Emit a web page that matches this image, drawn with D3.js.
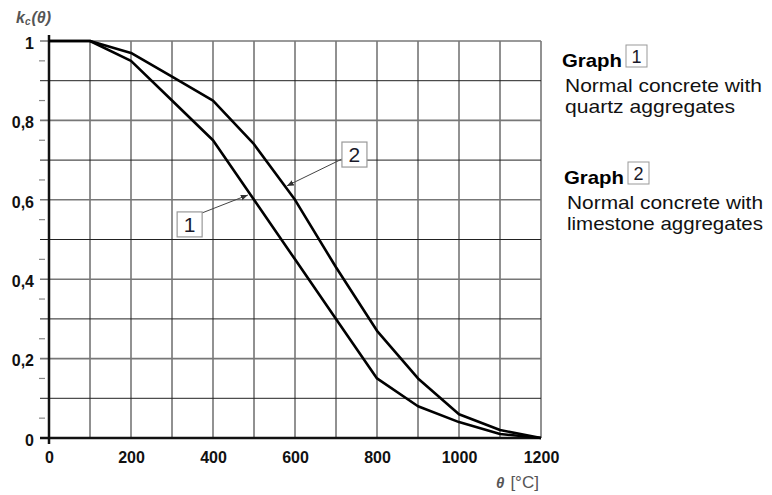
<!DOCTYPE html>
<html>
<head>
  <meta charset="utf-8">
  <title>kc(theta)</title>
  <script src="https://cdn.jsdelivr.net/npm/d3@7"></script>
  <style>
    body { margin: 0; background: #fff; }
    svg { display: block; font-family: "Liberation Sans", Arial, sans-serif; }
  </style>
</head>
<body>
  <svg width="772" height="495" id="mainsvg"></svg>
  <script>
    // data (EN 1992-1-2 style reduction factors)
    const temps = [0, 100, 200, 300, 400, 500, 600, 700, 800, 900, 1000, 1100, 1200];
    const quartz = [1, 1, 0.95, 0.85, 0.75, 0.60, 0.45, 0.30, 0.15, 0.08, 0.04, 0.01, 0];
    const limestone = [1, 1, 0.97, 0.91, 0.85, 0.74, 0.60, 0.43, 0.27, 0.15, 0.06, 0.02, 0];
    const xTickLabels = [0, 200, 400, 600, 800, 1000, 1200];
    const yTickLabels = [0, 0.2, 0.4, 0.6, 0.8, 1];
    const legendItems = [
      {id: '1', lines: ['Normal concrete with', 'quartz aggregates']},
      {id: '2', lines: ['Normal concrete with', 'limestone aggregates']}
    ];
    // label boxes on the plot, in data units, and where their arrows point
    const callouts = [
      {id: '1', t: 343, k: 0.538, tipT: 485, tipK: 0.612},
      {id: '2', t: 745, k: 0.714, tipT: 580, tipK: 0.635}
    ];

    const svg = d3.select('svg');
    const margin = {top: 41, left: 49};
    const innerWidth = 492;
    const innerHeight = 397;
    const g = svg.append('g').attr('transform', `translate(${margin.left}, ${margin.top})`);

    const xScale = d3.scaleLinear().domain([0, 1200]).range([0, innerWidth]);
    const yScale = d3.scaleLinear().domain([0, 1]).range([innerHeight, 0]);

    // grid
    const vLines = d3.range(100, 1201, 100);
    g.selectAll('.vgrid').data(vLines).join('line')
      .attr('x1', d => xScale(d)).attr('x2', d => xScale(d))
      .attr('y1', yScale(1)).attr('y2', yScale(0))
      .attr('stroke', (d, i) => i % 2 ? '#777' : '#222')
      .attr('stroke-width', (d, i) => i % 2 ? 1.6 : 1);
    const hLines = d3.range(1, 11).map(d => d / 10);
    g.selectAll('.hgrid').data(hLines).join('line')
      .attr('x1', -9).attr('x2', xScale(1200))
      .attr('y1', d => yScale(d)).attr('y2', d => yScale(d))
      .attr('stroke', (d, i) => i % 2 ? '#777' : '#222')
      .attr('stroke-width', (d, i) => i % 2 ? 1.6 : 1);
    // minor ticks on the left
    g.selectAll('.minor').data(d3.range(0, 10).map(d => d / 10 + 0.05)).join('line')
      .attr('x1', -10).attr('x2', -4)
      .attr('y1', d => yScale(d)).attr('y2', d => yScale(d))
      .attr('stroke', '#888').attr('stroke-width', 1.2);

    // axes lines
    g.append('line').attr('x1', 0).attr('x2', 0).attr('y1', -6).attr('y2', yScale(0) + 6)
      .attr('stroke', '#111').attr('stroke-width', 2.5);
    g.append('line').attr('x1', -9).attr('x2', xScale(1200)).attr('y1', yScale(0)).attr('y2', yScale(0))
      .attr('stroke', '#111').attr('stroke-width', 2.5);

    // tick labels
    const xAxis = d3.axisBottom(xScale).tickValues(xTickLabels).tickSize(0).tickPadding(14)
      .tickFormat(d3.format('d'));
    const xAxisGroup = g.append('g').attr('transform', `translate(0, ${innerHeight})`).call(xAxis);
    xAxisGroup.select('.domain').remove();
    const yAxis = d3.axisLeft(yScale).tickValues(yTickLabels).tickSize(0).tickPadding(15)
      .tickFormat(d => d === 0 || d === 1 ? d : String(d).replace('.', ','));
    const yAxisGroup = g.append('g').call(yAxis);
    yAxisGroup.select('.domain').remove();
    g.selectAll('.tick text').attr('font-size', 16).attr('font-weight', 'bold')
      .attr('fill', '#111').attr('font-family', '"Liberation Sans", Arial, sans-serif');
    yAxisGroup.selectAll('.tick text').attr('dy', '0.45em');

    // curves
    const line = d3.line().x(d => xScale(d[0])).y(d => yScale(d[1]));
    [quartz, limestone].forEach(s => {
      g.append('path').datum(temps.map((t, i) => [t, s[i]]))
        .attr('d', line).attr('fill', 'none')
        .attr('stroke', '#000').attr('stroke-width', 2.6).attr('stroke-linejoin', 'round');
    });

    // callouts
    svg.append('defs').append('marker').attr('id', 'arr')
      .attr('viewBox', '0 0 10 10').attr('refX', 10).attr('refY', 5)
      .attr('markerWidth', 7).attr('markerHeight', 7).attr('orient', 'auto')
      .append('path').attr('d', 'M0,1 L10,5 L0,9 Z').attr('fill', '#333');
    callouts.forEach(c => {
      const cx = xScale(c.t), cy = yScale(c.k);
      const sx = c.id === '1' ? cx + 12.5 : cx - 12.5;
      const sy = c.id === '1' ? cy - 11.5 : cy + 4.5;
      g.append('line').attr('x1', sx).attr('y1', sy)
        .attr('x2', xScale(c.tipT)).attr('y2', yScale(c.tipK))
        .attr('stroke', '#444').attr('stroke-width', 1).attr('marker-end', 'url(#arr)');
      g.append('rect').attr('x', cx - 12.5).attr('y', cy - 12.5).attr('width', 25).attr('height', 25)
        .attr('fill', '#fff').attr('stroke', '#999').attr('stroke-width', 1.2);
      g.append('text').attr('x', cx).attr('y', cy + 7.5).attr('text-anchor', 'middle')
        .attr('font-size', 21).attr('fill', '#1a1a2a').text(c.id);
    });

    // axis titles
    const yTitle = svg.append('text').attr('x', 16).attr('y', 23).attr('fill', '#555')
      .attr('font-size', 16).attr('font-weight', 'bold').attr('font-style', 'italic');
    yTitle.append('tspan').text('k');
    yTitle.append('tspan').attr('font-size', 10).attr('dy', 2).text('c');
    yTitle.append('tspan').attr('dy', -2).attr('dx', 1).text('(θ)');
    const xTitle = svg.append('text').attr('x', 496).attr('y', 488).attr('fill', '#555').attr('font-size', 17);
    xTitle.append('tspan').attr('font-weight', 'bold').attr('font-style', 'italic').attr('font-size', 15).text('θ');
    xTitle.append('tspan').attr('dx', 6).text('[°C]');

    // legend
    const legendTop = [67, 184];
    const lineWidths = [[197, 170], [196, 196]];
    legendItems.forEach((item, i) => {
      const lg = svg.append('g').attr('transform', `translate(${562 + i * 2}, ${legendTop[i]})`);
      lg.append('text').attr('x', 0).attr('y', 0).attr('font-size', 19).attr('font-weight', 'bold')
        .attr('fill', '#000').attr('textLength', 60).attr('lengthAdjust', 'spacingAndGlyphs').text('Graph');
      lg.append('rect').attr('x', 64).attr('y', -22).attr('width', 21).attr('height', 22)
        .attr('fill', '#fff').attr('stroke', '#999').attr('stroke-width', 1);
      lg.append('text').attr('x', 74.5).attr('y', -4).attr('text-anchor', 'middle')
        .attr('font-size', 18).attr('fill', '#1a1a2a').text(item.id);
      item.lines.forEach((t, j) => {
        lg.append('text').attr('x', 3).attr('y', 25 + j * 21).attr('font-size', 19)
          .attr('textLength', lineWidths[i][j]).attr('lengthAdjust', 'spacingAndGlyphs')
          .attr('fill', '#111').text(t);
      });
    });
  </script>
</body>
</html>
